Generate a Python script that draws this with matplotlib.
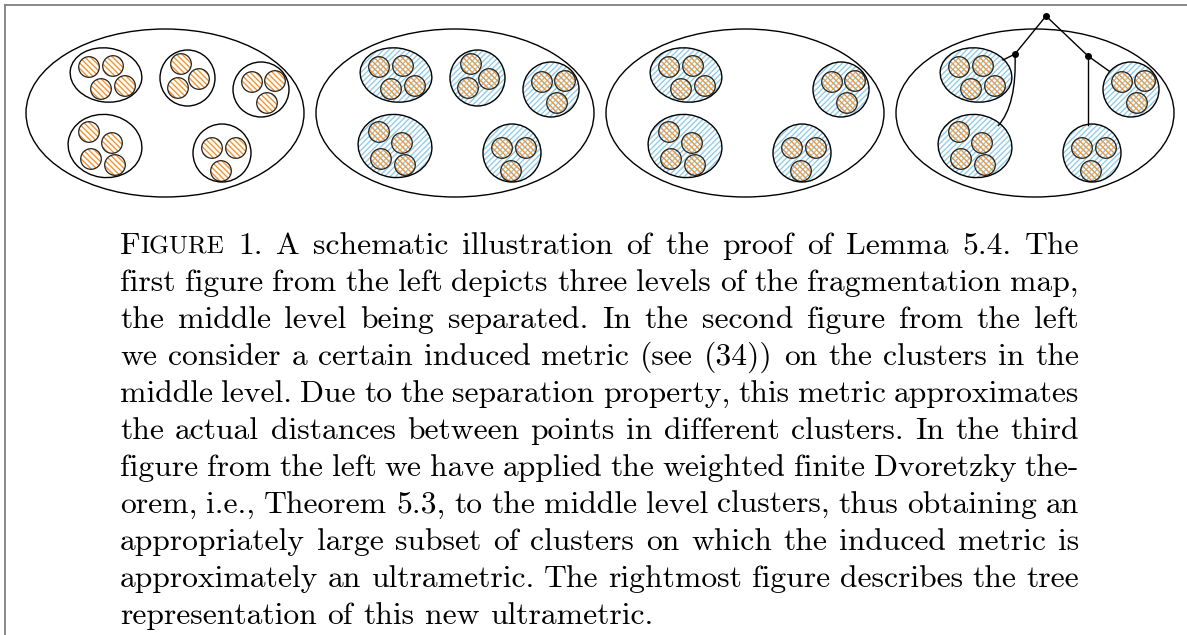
import matplotlib
matplotlib.use('Agg')
import matplotlib.pyplot as plt
from matplotlib.patches import Ellipse, Circle, PathPatch
from matplotlib.path import Path

W, H = 1187, 635
plt.rcParams['hatch.linewidth'] = 1.0

# panel layout (pixels): big ellipse centres, one per stage
panel_x = [165, 455, 745, 1035]
panel_y = 113
big_w, big_h = 278, 168

# clusters of the middle level, relative to the panel centre: dx, dy, w, h, angle
clusters = {
    'A': (-59, -38, 72, 54, 8),
    'B': (22.5, -35, 55, 56, 0),
    'C': (96, -23.5, 56, 55, 0),
    'D': (-60, 33, 74, 63, 8),
    'E': (57, 40, 58, 58, 0),
}
# smallest clusters, relative to their parent cluster
points = {
    'A': [(-17, -8), (7, -9), (-5, 14), (19, 11)],
    'B': [(-6.5, -14), (11.5, 1), (-9.5, 10)],
    'C': [(-9, -7.5), (14, -8.5), (6, 13.5)],
    'D': [(-16, -14), (7, -3), (-14, 13), (10, 19)],
    'E': [(-10, -5), (14, -5), (-1, 18)],
}
circle_r = 10.3

# which clusters appear in each panel, and whether they are shaded
panel_keys = [list('ABCDE'), list('ABCDE'), list('ACDE'), list('ACDE')]
panel_shaded = [False, True, True, True]

# tree in the last panel, relative to its centre
root = (11, -97)
left_node = (-20, -59)
right_node = (53, -57)
edge_A = (-32, -53)
edge_C = (74, -42)
edge_E = (53, 12)
edge_D = (-37, 13)
ctrl_D = (-18, -8)

caption_lines = [
    "FIGURE 1. A schematic illustration of the proof of Lemma 5.4. The",
    "first figure from the left depicts three levels of the fragmentation map,",
    "the middle level being separated. In the second figure from the left",
    "we consider a certain induced metric (see (34)) on the clusters in the",
    "middle level. Due to the separation property, this metric approximates",
    "the actual distances between points in different clusters. In the third",
    "figure from the left we have applied the weighted finite Dvoretzky the-",
    "orem, i.e., Theorem 5.3, to the middle level clusters, thus obtaining an",
    "appropriately large subset of clusters on which the induced metric is",
    "approximately an ultrametric. The rightmost figure describes the tree",
    "representation of this new ultrametric.",
]

orange = '#f39533'
blue = '#94cde6'

fig = plt.figure(figsize=(W / 100, H / 100), dpi=100)
ax = fig.add_axes([0, 0, 1, 1])
ax.set_xlim(0, W)
ax.set_ylim(H, 0)
ax.axis('off')

# page frame
ax.plot([4.5, W], [4.5, 4.5], color='#808080', lw=1.3)
ax.plot([4.5, 4.5], [4.5, H], color='#808080', lw=1.3)

for p, cx in enumerate(panel_x):
    ax.add_patch(Ellipse((cx, panel_y), big_w, big_h, fill=False, ec='black', lw=1.0))
    for k in panel_keys[p]:
        dx, dy, w, h, ang = clusters[k]
        ccx, ccy = cx + dx, panel_y + dy
        if panel_shaded[p]:
            ax.add_patch(Ellipse((ccx, ccy), w, h, angle=ang, fill=False,
                                 ec=blue, lw=0, hatch='//////'))
        for px, py in points[k]:
            ax.add_patch(Circle((ccx + px, ccy + py), circle_r, fill=False,
                                ec=orange, lw=0, hatch='\\' * 6))
            ax.add_patch(Circle((ccx + px, ccy + py), circle_r, fill=False,
                                ec='#222222', lw=0.9))
        ax.add_patch(Ellipse((ccx, ccy), w, h, angle=ang, fill=False,
                             ec='black', lw=1.0))

# tree
tx, ty = panel_x[3], panel_y
def rel(pt):
    return (tx + pt[0], ty + pt[1])

for a, b in [(root, left_node), (root, right_node), (left_node, edge_A),
             (right_node, edge_C), (right_node, edge_E)]:
    (x0, y0), (x1, y1) = rel(a), rel(b)
    ax.plot([x0, x1], [y0, y1], color='black', lw=1.0)
curve = Path([rel(left_node), rel(ctrl_D), rel(edge_D)],
             [Path.MOVETO, Path.CURVE3, Path.CURVE3])
ax.add_patch(PathPatch(curve, fill=False, ec='black', lw=1.0))
for nd in [root, left_node, right_node]:
    ax.plot(*rel(nd), 'o', color='black', ms=4)

# caption, justified between two margins
x_left, x_right = 120, 1079
base0, lead = 254, 37
font = 'cmr10'
renderer = fig.canvas.get_renderer()

def word_width(s, size):
    t = ax.text(0, 0, s, fontsize=size, family=font)
    wd = t.get_window_extent(renderer).width
    t.remove()
    return wd

def width_of(s, size):
    if s == 'FIGURE':
        return word_width('F', size) + word_width('IGURE', size * 0.8)
    return word_width(s, size)

# pick the font size so the full lines fit the measure with normal spaces
ref = 10.0
sp_ref = word_width('a a', ref) - 2 * word_width('a', ref)
nat = []
for line in caption_lines[:-1]:
    words = line.split()
    nat.append(sum(width_of(w, ref) for w in words) + (len(words) - 1) * sp_ref)
fs = ref * (x_right - x_left) / (sum(nat) / len(nat))

def draw_word(x, y, s):
    if s == 'FIGURE':
        ax.text(x, y, 'F', fontsize=fs, family=font, va='baseline')
        x2 = x + word_width('F', fs)
        ax.text(x2, y, 'IGURE', fontsize=fs * 0.8, family=font, va='baseline')
    else:
        ax.text(x, y, s, fontsize=fs, family=font, va='baseline')

space = word_width('a a', fs) - 2 * word_width('a', fs)
for i, line in enumerate(caption_lines):
    words = line.split()
    widths = [width_of(w, fs) for w in words]
    y = base0 + i * lead
    if i < len(caption_lines) - 1:
        gap = (x_right - x_left - sum(widths)) / (len(words) - 1)
    else:
        gap = space
    x = x_left
    for w, wd in zip(words, widths):
        draw_word(x, y, w)
        x += wd + gap

fig.savefig('out.png', dpi=100, facecolor='white')
